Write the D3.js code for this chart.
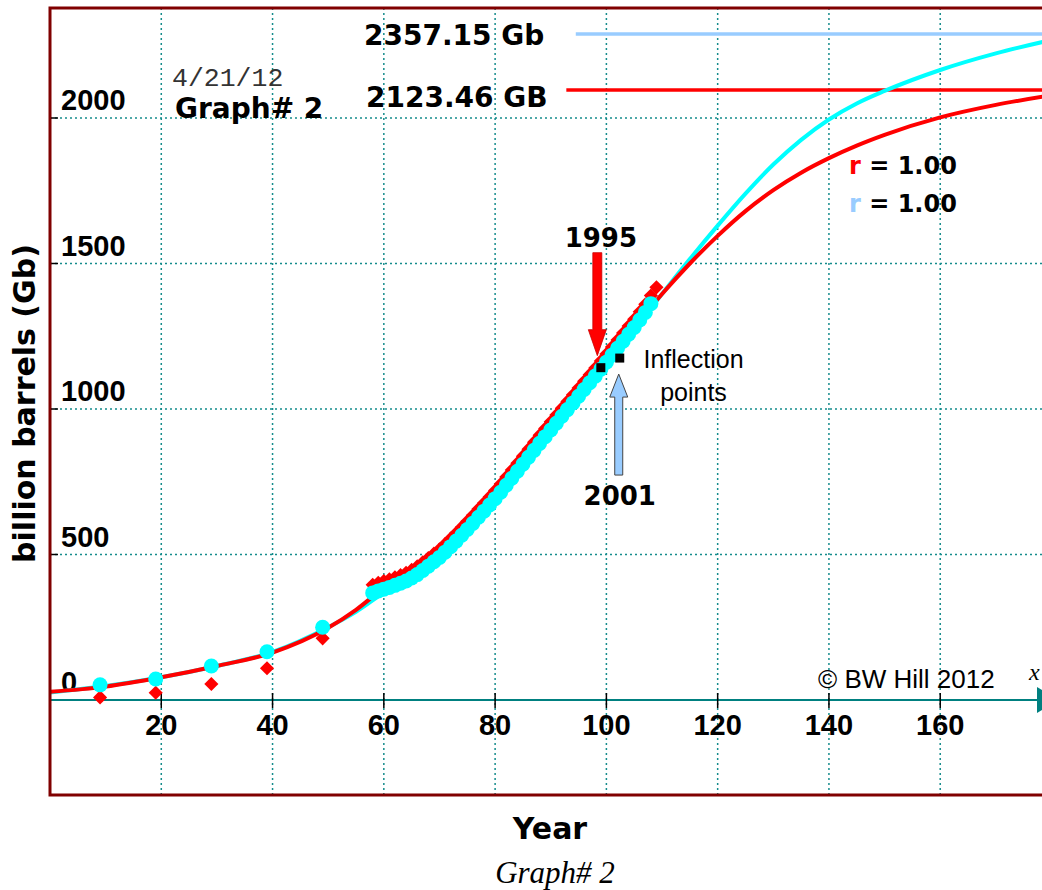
<!DOCTYPE html>
<html>
<head>
<meta charset="utf-8">
<script src="https://cdn.jsdelivr.net/npm/d3@7"></script>
<style>
	body { margin: 0; background: #fff; }
	svg { display: block; }
	.bold_text { font-family: "DejaVu Sans", Verdana, sans-serif; font-weight: bold; }
	.tick_label { font-family: "Liberation Sans", Arial, sans-serif; font-weight: bold; font-size: 29px; }
</style>
</head>
<body>
<svg id="chart" width="1042" height="890"></svg>
<script>
"use strict";

// axis ticks
var xTicks = [20, 40, 60, 80, 100, 120, 140, 160];
var yTicks = [0, 500, 1000, 1500, 2000];
var yGrid = [500, 1000, 1500, 2000];

// sparse early observations (every 10 years)
var earlyYears = [9, 19, 29, 39, 49];
var earlyBlue = [52, 72, 117, 166, 250];
var earlyRed = [9, 25, 55, 109, 212];

// dense yearly observations
var denseBlueYears = [58, 59, 60, 61, 62, 63, 64, 65, 66, 67, 68, 69, 70, 71, 72, 73, 74, 75, 76, 77,
	78, 79, 80, 81, 82, 83, 84, 85, 86, 87, 88, 89, 90, 91, 92, 93, 94, 95, 96, 97,
	98, 99, 100, 101, 102, 103, 104, 105, 106, 107, 108];
var denseBlue = [368, 375, 381, 387, 394, 401, 409, 419, 431, 445, 460, 475, 490, 508, 527, 546, 566, 586, 607, 628,
	649, 670, 692, 714, 738, 762, 786, 810, 834, 858, 882, 905, 928, 951, 975, 998, 1021, 1044, 1067, 1090,
	1113, 1137, 1161, 1185, 1209, 1233, 1257, 1280, 1306, 1332, 1362];
var denseRedYears = [58, 59, 60, 61, 62, 63, 64, 65, 66, 67, 68, 69, 70, 71, 72, 73, 74, 75, 76, 77,
	78, 79, 80, 81, 82, 83, 84, 85, 86, 87, 88, 89, 90, 91, 92, 93, 94, 95, 96, 97,
	98, 99, 100, 101, 102, 103, 104, 105, 106, 107, 108, 109];
var denseRed = [396, 403, 409, 415, 422, 429, 437, 447, 459, 473, 488, 503, 518, 536, 555, 574, 594, 614, 635, 656,
	677, 698, 720, 742, 766, 790, 814, 838, 862, 886, 910, 933, 956, 979, 1003, 1026, 1049, 1072, 1095, 1118,
	1141, 1165, 1189, 1213, 1237, 1261, 1285, 1308, 1334, 1360, 1390, 1418];

// fitted curves
var fitRedX = [0, 10, 20, 30, 40, 50, 55, 60, 65, 70, 75, 80, 85, 90, 95, 100, 105, 110, 115, 120, 125, 130, 135, 140, 145, 150, 160, 170, 180];
var fitRedY = [28, 46, 78, 117, 163, 248, 310, 385, 445, 515, 610, 712, 818, 928, 1043, 1162, 1280, 1395, 1500, 1595, 1680, 1752, 1812, 1862, 1905, 1942, 2002, 2045, 2078];
var fitBlueX = [0, 10, 20, 30, 40, 50, 55, 60, 65, 70, 75, 80, 85, 90, 95, 100, 105, 110, 115, 120, 125, 130, 135, 140, 145, 150, 160, 170, 180];
var fitBlueY = [26, 48, 78, 117, 165, 250, 303, 368, 422, 490, 590, 695, 805, 918, 1035, 1155, 1275, 1395, 1515, 1630, 1740, 1840, 1925, 1995, 2050, 2093, 2165, 2222, 2268];

// asymptotes
var asymptoteValues = [2289, 2096];
var asymptoteLabels = ["2357.15 Gb", "2123.46 GB"];

// inflection points
var inflectionX = [99.0, 102.4];
var inflectionY = [1142, 1175];
var inflectionYears = ["1995", "2001"];

var RED = "#ff0000";
var CYAN = "#00ffff";
var LIGHT_BLUE = "#99ccff";
var GRID = "#158c8c";
var FRAME = "#800000";

var svg = d3.select("#chart");
svg.append("rect").attr("width", 1042).attr("height", 890).attr("fill", "#fff");

var x = d3.scaleLinear().domain([0, 180]).range([50, 1051.5]);
var y = d3.scaleLinear().domain([0, 2000]).range([700, 118]);

var frameTop = 8, frameBottom = 795, frameLeft = 50, rightEdge = 1042;

/////////////////////////////////////////////////////////////
// grid
svg.append("g").selectAll("line").data(xTicks).join("line")
	.attr("x1", x).attr("x2", x)
	.attr("y1", frameTop).attr("y2", frameBottom)
	.attr("stroke", GRID).attr("stroke-width", 1.5)
	.attr("stroke-dasharray", "2,3");

svg.append("g").selectAll("line").data(yGrid).join("line")
	.attr("x1", frameLeft).attr("x2", rightEdge)
	.attr("y1", y).attr("y2", y)
	.attr("stroke", GRID).attr("stroke-width", 1.5)
	.attr("stroke-dasharray", "2,3");

// small y ticks
svg.append("g").selectAll("line").data(yGrid).join("line")
	.attr("x1", frameLeft).attr("x2", frameLeft + 8)
	.attr("y1", y).attr("y2", y)
	.attr("stroke", "#000").attr("stroke-width", 1.5);

// x axis with arrow
svg.append("line")
	.attr("x1", frameLeft).attr("x2", 1037)
	.attr("y1", y(0)).attr("y2", y(0))
	.attr("stroke", "#008080").attr("stroke-width", 2);
svg.append("path")
	.attr("d", "M1037," + (y(0) - 13) + "L1058," + y(0) + "L1037," + (y(0) + 13) + "Z")
	.attr("fill", "#008080");
svg.append("text").attr("x", 1029).attr("y", 680)
	.style("font-family", "'Liberation Serif', serif").style("font-style", "italic")
	.style("font-size", "24px").text("x");

svg.append("g").selectAll("line").data(xTicks).join("line")
	.attr("x1", x).attr("x2", x)
	.attr("y1", y(0) - 7).attr("y2", y(0) + 8)
	.attr("stroke", "#000").attr("stroke-width", 1.5);

// tick labels
svg.append("g").selectAll("text").data(xTicks).join("text")
	.classed("tick_label", true)
	.attr("x", x).attr("y", 735)
	.attr("text-anchor", "middle")
	.text(function(d){ return d; });

svg.append("g").selectAll("text").data(yTicks).join("text")
	.classed("tick_label", true)
	.attr("x", 61).attr("y", function(d){ return y(d) - 8; })
	.text(function(d){ return d; });

/////////////////////////////////////////////////////////////
// asymptote lines
var asymStart = [94.5, 92.8];
var asymColor = [LIGHT_BLUE, RED];
var asymLabelX = [364, 366];
asymptoteValues.forEach(function(v, i){
	svg.append("line")
		.attr("x1", x(asymStart[i])).attr("x2", rightEdge)
		.attr("y1", y(v)).attr("y2", y(v))
		.attr("stroke", asymColor[i]).attr("stroke-width", 3.5);
	svg.append("text").classed("bold_text", true)
		.attr("x", asymLabelX[i]).attr("y", y(v) + 11 + i * 6)
		.style("font-size", "28px")
		.text(asymptoteLabels[i]);
});

/////////////////////////////////////////////////////////////
// fitted curves
var fitLine = d3.line().curve(d3.curveMonotoneX)
	.x(function(d){ return x(d[0]); })
	.y(function(d){ return y(d[1]); });

svg.append("path")
	.attr("d", fitLine(d3.zip(fitBlueX, fitBlueY)))
	.attr("fill", "none").attr("stroke", CYAN).attr("stroke-width", 4);
svg.append("path")
	.attr("d", fitLine(d3.zip(fitRedX, fitRedY)))
	.attr("fill", "none").attr("stroke", RED).attr("stroke-width", 4);

// observed data
var diamond = d3.symbol().type(d3.symbolSquare).size(100);
var redPts = d3.zip(earlyYears, earlyRed).concat(d3.zip(denseRedYears, denseRed));
var bluePts = d3.zip(earlyYears, earlyBlue).concat(d3.zip(denseBlueYears, denseBlue));

svg.append("g").selectAll("path").data(redPts).join("path")
	.attr("d", diamond)
	.attr("transform", function(d){ return "translate(" + x(d[0]) + "," + y(d[1]) + ") rotate(45)"; })
	.attr("fill", RED);

svg.append("g").selectAll("circle").data(bluePts).join("circle")
	.attr("cx", function(d){ return x(d[0]); })
	.attr("cy", function(d){ return y(d[1]); })
	.attr("r", 7.5)
	.attr("fill", CYAN);

/////////////////////////////////////////////////////////////
// inflection points and arrows
function arrow(tx, ty, dir, len, headLen, headHalf, shaftHalf){
	var hb = ty - dir * headLen, tail = ty - dir * len;
	return [[tx, ty], [tx + headHalf, hb], [tx + shaftHalf, hb], [tx + shaftHalf, tail],
		[tx - shaftHalf, tail], [tx - shaftHalf, hb], [tx - headHalf, hb]];
}

var infl = d3.zip(inflectionX, inflectionY);
svg.append("g").selectAll("rect").data(infl).join("rect")
	.attr("x", function(d){ return x(d[0]) - 4.5; })
	.attr("y", function(d){ return y(d[1]) - 4.5; })
	.attr("width", 9).attr("height", 9)
	.attr("fill", "#000");

var p1 = [x(inflectionX[0]), y(inflectionY[0])];
var p2 = [x(inflectionX[1]), y(inflectionY[1])];

svg.append("polygon")
	.attr("points", arrow(p1[0] - 3.5, p1[1] - 12, 1, 103, 26, 9, 4.5).join(" "))
	.attr("fill", RED).attr("stroke", "#cc0000").attr("stroke-width", 0.8);
svg.append("text").classed("bold_text", true)
	.attr("x", p1[0]).attr("y", p1[1] - 121)
	.attr("text-anchor", "middle").style("font-size", "26px")
	.text(inflectionYears[0]);

svg.append("polygon")
	.attr("points", arrow(p2[0] - 1, p2[1] + 16, -1, 101, 23, 9, 4).join(" "))
	.attr("fill", LIGHT_BLUE).attr("stroke", "#444").attr("stroke-width", 1);
svg.append("text").classed("bold_text", true)
	.attr("x", p2[0]).attr("y", p2[1] + 147)
	.attr("text-anchor", "middle").style("font-size", "26px")
	.text(inflectionYears[1]);

var inflText = svg.append("text")
	.style("font-family", "'Liberation Sans', Arial, sans-serif")
	.style("font-size", "25px")
	.attr("text-anchor", "middle");
inflText.append("tspan").attr("x", 693.5).attr("y", 368).text("Inflection");
inflText.append("tspan").attr("x", 693.5).attr("y", 401).text("points");

/////////////////////////////////////////////////////////////
// r values
[RED, LIGHT_BLUE].forEach(function(c, i){
	var t = svg.append("text").classed("bold_text", true)
		.attr("x", 849).attr("y", 174 + i * 38)
		.style("font-size", "24px");
	t.append("tspan").attr("fill", c).text("r");
	t.append("tspan").attr("fill", "#000").text(" = 1.00");
});

// header texts
svg.append("text").attr("x", 172).attr("y", 86)
	.style("font-family", "'Liberation Mono', 'Courier New', monospace")
	.style("font-size", "26.5px").attr("fill", "#333")
	.text("4/21/12");
svg.append("text").classed("bold_text", true)
	.attr("x", 175).attr("y", 118).style("font-size", "28px")
	.text("Graph# 2");

svg.append("text").attr("x", 818).attr("y", 688)
	.style("font-family", "'Liberation Sans', Arial, sans-serif")
	.style("font-size", "26px")
	.text("\u00a9 BW Hill 2012");

/////////////////////////////////////////////////////////////
// frame
svg.append("path")
	.attr("d", "M" + (rightEdge + 5) + "," + frameTop + "H" + frameLeft + "V" + frameBottom + "H" + (rightEdge + 5))
	.attr("fill", "none").attr("stroke", FRAME).attr("stroke-width", 3);

// axis titles
svg.append("text").classed("bold_text", true)
	.attr("transform", "translate(35,403.5) rotate(-90)")
	.attr("text-anchor", "middle").style("font-size", "30px")
	.text("billion barrels (Gb)");
svg.append("text").classed("bold_text", true)
	.attr("x", 550).attr("y", 839)
	.attr("text-anchor", "middle").style("font-size", "30px")
	.text("Year");
svg.append("text").attr("x", 555).attr("y", 883)
	.attr("text-anchor", "middle")
	.style("font-family", "'Liberation Serif', 'Times New Roman', serif")
	.style("font-style", "italic").style("font-size", "31px")
	.text("Graph# 2");
</script>
</body>
</html>
